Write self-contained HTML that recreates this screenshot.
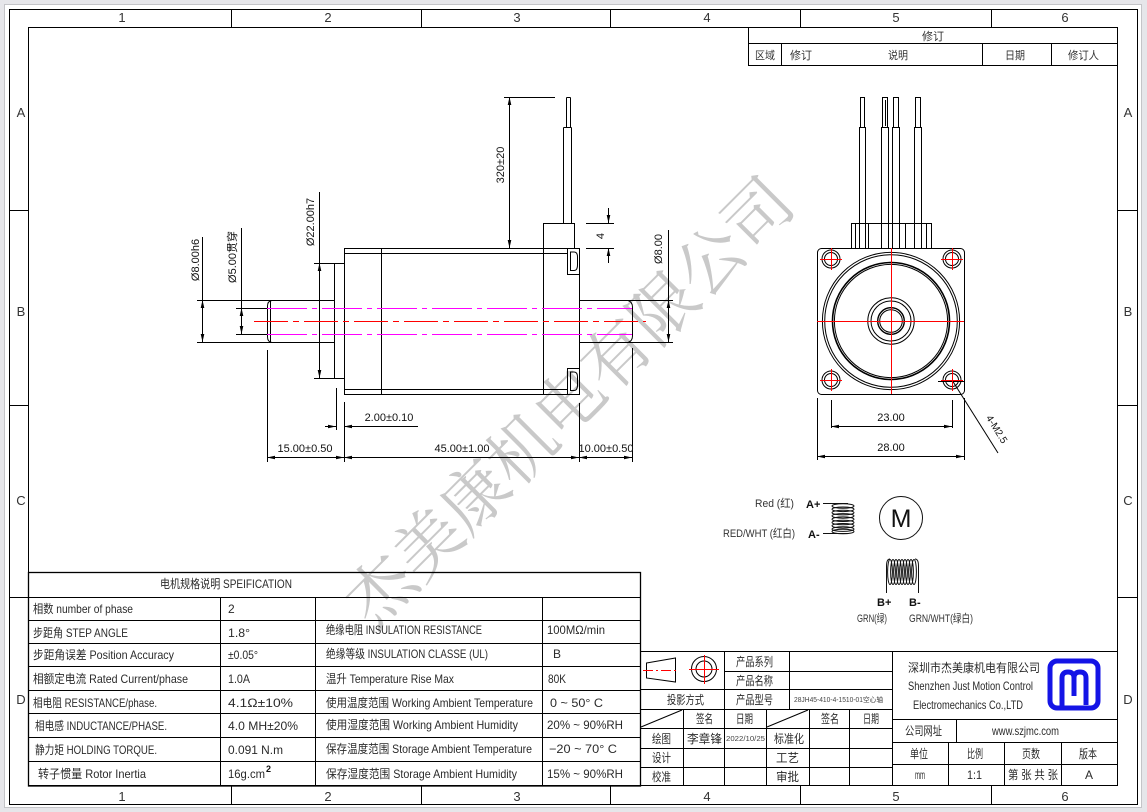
<!DOCTYPE html>
<html><head><meta charset="utf-8">
<style>
html,body{margin:0;padding:0;background:#e6e6ea;}
svg{display:block}
text{font-family:"Liberation Sans","Noto Sans CJK SC",sans-serif;fill:#222}
.d{font-size:11px;fill:#111}
.c{font-size:12px;fill:#2a2a2a}
.z{font-size:13px;fill:#333}
.s{font-size:11px;fill:#333}
</style></head><body>
<svg width="1147" height="812" viewBox="0 0 1147 812" xmlns="http://www.w3.org/2000/svg">
<rect x="4.5" y="4.5" width="1137" height="803" fill="#fff" stroke="#c4c4c8"/>

<!-- watermark -->
<text transform="translate(374,631) rotate(-45)" font-size="67" style="fill:#c9c9c9;font-family:'Noto Serif CJK SC','Noto Sans CJK SC',serif" textLength="600">杰美康机电有限公司</text>

<g fill="none" stroke="#000" stroke-width="1">
<!-- frames -->
<rect x="9.5" y="9.5" width="1128" height="795"/>
<rect x="28.5" y="27.5" width="1089" height="758"/>
<path d="M231.5,9V27M421.5,9V27M610.5,9V27M800.5,9V27M991.5,9V27"/>
<path d="M231.5,786V805M421.5,786V805M610.5,786V805M800.5,786V805M991.5,786V805"/>
<path d="M9,210.5H28M9,405.5H28M9,597.5H28M1118,210.5H1137M1118,405.5H1137M1118,597.5H1137"/>

<!-- revision table -->
<path d="M748.5,27V65M748,43.5H1118M748,65.5H1118M781.5,43V65M982.5,43V65M1051.5,43V65"/>

<!-- LEFT VIEW -->
<path d="M197,300.5H334M197,342.5H334"/>
<path d="M272,300.5Q267.5,301 267.5,306V337Q267.5,342 272,342.5"/>
<path d="M270.5,301V342"/>
<path d="M334.5,263V378M334,263.5H344M334,378.5H344"/>
<path d="M314,263.5H334M314,378.5H334"/>
<path d="M344.5,248.5H579.5V394.5H344.5Z"/>
<path d="M344,253.5H567M344,389.5H567"/>
<path d="M381.5,248V394M543.5,223V394M543.5,223.5H574.5V248"/>
<path d="M567.5,248V274.5H579M567.5,368.5V394M567,368.5H579"/>
<path d="M570.5,252H574Q577.5,252 577.5,257V265Q577.5,270.5 574,270.5H570.5Z"/>
<path d="M570.5,372H574Q577.5,372 577.5,377V385Q577.5,390.5 574,390.5H570.5Z"/>
<path d="M579,300.5H673M579,342.5H673"/>
<path d="M628,300.5Q632.5,302 632.5,307V336Q632.5,341 628,342.5"/>
<path d="M563.5,127.5V223M571.5,127.5V223M563.5,127.5H571.5"/>
<path d="M566.5,97.5V127M570.5,97.5V127M566.5,97.5H570.5"/>

<!-- left view dims -->
<path d="M202.5,237V342M241.5,228V334M236,308.5H267M236,334.5H267M319.5,192V378"/>
<path d="M509.5,97V248M504,97.5H555"/>
<path d="M608.5,208V223M608.5,248V263M586,223.5H614M586,248.5H614"/>
<path d="M668.5,230V342"/>
<path d="M267.5,350V462M344.5,402V462M336.5,388V430M579.5,403V462M632.5,348V462"/>
<path d="M325,426.5H336M344,426.5H418"/>
<path d="M267,457.5H632"/>
</g>

<!-- centerlines -->
<g fill="none" stroke-width="1">
<path d="M267,308.5H632M267,334.5H632" stroke="#ff00ff" stroke-dasharray="40 5 5 5"/>
<path d="M254,321.5H646" stroke="#ff0000" stroke-dasharray="34 5 6 5"/>
</g>

<!-- arrows -->
<g fill="#000">
<polygon points="202.5,300 200.7,308 204.3,308"/><polygon points="202.5,342 200.7,334 204.3,334"/>
<polygon points="241.5,308 239.7,316 243.3,316"/><polygon points="241.5,334 239.7,326 243.3,326"/>
<polygon points="319.5,263 317.7,271 321.3,271"/><polygon points="319.5,378 317.7,370 321.3,370"/>
<polygon points="509.5,97 507.7,105 511.3,105"/><polygon points="509.5,248 507.7,240 511.3,240"/>
<polygon points="608.5,223 606.7,215 610.3,215"/><polygon points="608.5,248 606.7,256 610.3,256"/>
<polygon points="668.5,300 666.7,308 670.3,308"/><polygon points="668.5,342 666.7,334 670.3,334"/>
<polygon points="336,426.5 328,424.7 328,428.3"/><polygon points="344,426.5 352,424.7 352,428.3"/>
<polygon points="267,457.5 275,455.7 275,459.3"/><polygon points="344,457.5 336,455.7 336,459.3"/>
<polygon points="344,457.5 352,455.7 352,459.3"/><polygon points="579,457.5 571,455.7 571,459.3"/>
<polygon points="579,457.5 587,455.7 587,459.3"/><polygon points="632,457.5 624,455.7 624,459.3"/>
<polygon points="831,426.5 839,424.7 839,428.3"/><polygon points="952,426.5 944,424.7 944,428.3"/>
<polygon points="817,456.5 825,454.7 825,458.3"/><polygon points="964,456.5 956,454.7 956,458.3"/>
</g>

<!-- dim text -->
<text class="d" transform="translate(199,260) rotate(-90)" text-anchor="middle">Ø8.00h6</text>
<text class="d" transform="translate(236,257) rotate(-90)" text-anchor="middle">Ø5.00贯穿</text>
<text class="d" transform="translate(314,222) rotate(-90)" text-anchor="middle">Ø22.00h7</text>
<text class="d" transform="translate(504,165) rotate(-90)" text-anchor="middle">320±20</text>
<text class="d" transform="translate(604,236) rotate(-90)" text-anchor="middle">4</text>
<text class="d" transform="translate(662,249) rotate(-90)" text-anchor="middle">Ø8.00</text>
<text class="d" x="389" y="421" text-anchor="middle">2.00±0.10</text>
<text class="d" x="305" y="452" text-anchor="middle">15.00±0.50</text>
<text class="d" x="462" y="452" text-anchor="middle">45.00±1.00</text>
<text class="d" x="606" y="452" text-anchor="middle">10.00±0.50</text>
<text class="d" x="891" y="421" text-anchor="middle">23.00</text>
<text class="d" x="891" y="451" text-anchor="middle">28.00</text>
<text class="d" transform="translate(994,431) rotate(58)" text-anchor="middle" style="font-size:10px">4-M2.5</text>

<!-- RIGHT VIEW -->
<g fill="none" stroke="#000" stroke-width="1">
<rect x="817.5" y="248.5" width="147" height="146" rx="4"/>
<rect x="851.5" y="223.5" width="80" height="25"/>
<path d="M855.5,224V248M926.5,224V248M868.5,224V248M905.5,224V248"/>
<path d="M859.5,127V248M865.5,127V248M859.5,127.5H865.5M860.5,97V127M864.5,97V127M860.5,97.5H864.5"/>
<path d="M881.5,127V248M888.5,127V248M881.5,127.5H888.5M882.5,97V127M887.5,97V127M882.5,97.5H887.5M885.5,100V126"/>
<path d="M892.5,127V248M899.5,127V248M892.5,127.5H899.5M893.5,97V127M898.5,97V127M893.5,97.5H898.5"/>
<path d="M914.5,127V248M921.5,127V248M914.5,127.5H921.5M915.5,97V127M920.5,97V127M915.5,97.5H920.5"/>
<circle cx="891" cy="321" r="68.6"/>
<circle cx="891" cy="321" r="66.3"/>
<circle cx="891" cy="321" r="58.5" stroke-width="1.6"/>
<circle cx="891" cy="321" r="56.6"/>
<circle cx="891" cy="321" r="23.2"/>
<circle cx="891" cy="321" r="20"/>
<circle cx="891" cy="321" r="13.3" stroke-width="1.4"/>
<circle cx="891" cy="321" r="11.3"/>
<circle cx="831" cy="259" r="9"/><circle cx="831" cy="259" r="6.5"/>
<circle cx="952" cy="259" r="9"/><circle cx="952" cy="259" r="6.5"/>
<circle cx="831" cy="380" r="9"/><circle cx="831" cy="380" r="6.5"/>
<circle cx="952" cy="380" r="9"/><circle cx="952" cy="380" r="6.5"/>
<path d="M938,381.5H964"/>
<path d="M952,380L998,453"/>
<path d="M831.5,400V428M952.5,400V428M831,426.5H952"/>
<path d="M817.5,398V460M964.5,398V460M817,456.5H964"/>
</g>
<g fill="none" stroke="#ff0000" stroke-width="1">
<path d="M891.5,248V394M817,321.5H964"/>
<path d="M820,259.5H842M831.5,248V270M941,259.5H963M952.5,248V270M820,380.5H842M831.5,369V391M941,380.5H963M952.5,369V391"/>
</g>

<!-- wiring -->
<g fill="none" stroke="#111" stroke-width="1">
<path d="M823,503.5H848M823,533.5H848"/>
<ellipse cx="843" cy="506" rx="11" ry="2.3"/>
<ellipse cx="843" cy="509.3" rx="11" ry="2.3"/>
<ellipse cx="843" cy="512.6" rx="11" ry="2.3"/>
<ellipse cx="843" cy="515.9" rx="11" ry="2.3"/>
<ellipse cx="843" cy="519.2" rx="11" ry="2.3"/>
<ellipse cx="843" cy="522.5" rx="11" ry="2.3"/>
<ellipse cx="843" cy="525.8" rx="11" ry="2.3"/>
<ellipse cx="843" cy="529.1" rx="11" ry="2.3"/>
<ellipse cx="843" cy="531.5" rx="11" ry="2.3"/>
<circle cx="901" cy="518" r="21.5"/>
<path d="M886.5,593V566Q886.5,559 890,559M918.5,593V566Q918.5,559 915,559"/>
<ellipse cx="890" cy="572" rx="2.4" ry="12.5"/>
<ellipse cx="893" cy="572" rx="2.4" ry="12.5"/>
<ellipse cx="896" cy="572" rx="2.4" ry="12.5"/>
<ellipse cx="899" cy="572" rx="2.4" ry="12.5"/>
<ellipse cx="902" cy="572" rx="2.4" ry="12.5"/>
<ellipse cx="905" cy="572" rx="2.4" ry="12.5"/>
<ellipse cx="908" cy="572" rx="2.4" ry="12.5"/>
<ellipse cx="911" cy="572" rx="2.4" ry="12.5"/>
<ellipse cx="914" cy="572" rx="2.4" ry="12.5"/>
</g>
<text x="901" y="527" text-anchor="middle" style="font-size:25px;fill:#111">M</text>
<text class="s" x="755" y="507" textLength="39" lengthAdjust="spacingAndGlyphs">Red (红)</text>
<text class="s" x="723" y="537" textLength="72" lengthAdjust="spacingAndGlyphs">RED/WHT (红白)</text>
<text x="806" y="508" style="font-size:11px;font-weight:bold;fill:#111">A+</text>
<text x="808" y="538" style="font-size:11px;font-weight:bold;fill:#111">A-</text>
<text x="877" y="606" style="font-size:11px;font-weight:bold;fill:#111">B+</text>
<text x="909" y="606" style="font-size:11px;font-weight:bold;fill:#111">B-</text>
<text class="s" x="857" y="622" textLength="30" lengthAdjust="spacingAndGlyphs">GRN(绿)</text>
<text class="s" x="909" y="622" textLength="64" lengthAdjust="spacingAndGlyphs">GRN/WHT(绿白)</text>

<!-- zone labels -->
<g class="z" text-anchor="middle">
<text class="z" x="122" y="22">1</text><text class="z" x="328" y="22">2</text><text class="z" x="517" y="22">3</text><text class="z" x="707" y="22">4</text><text class="z" x="896" y="22">5</text><text class="z" x="1065" y="22">6</text>
<text class="z" x="122" y="801">1</text><text class="z" x="328" y="801">2</text><text class="z" x="517" y="801">3</text><text class="z" x="707" y="801">4</text><text class="z" x="896" y="801">5</text><text class="z" x="1065" y="801">6</text>
<text class="z" x="21" y="117">A</text><text class="z" x="21" y="316">B</text><text class="z" x="21" y="505">C</text><text class="z" x="21" y="704">D</text>
<text class="z" x="1128" y="117">A</text><text class="z" x="1128" y="316">B</text><text class="z" x="1128" y="505">C</text><text class="z" x="1128" y="704">D</text>
</g>

<!-- revision text -->
<text class="s" x="933" y="40" text-anchor="middle">修订</text>
<text class="s" x="755" y="59" textLength="20" lengthAdjust="spacingAndGlyphs">区域</text>
<text class="s" x="790" y="59" textLength="22" lengthAdjust="spacingAndGlyphs">修订</text>
<text class="s" x="888" y="59" textLength="20" lengthAdjust="spacingAndGlyphs">说明</text>
<text class="s" x="1005" y="59" textLength="20" lengthAdjust="spacingAndGlyphs">日期</text>
<text class="s" x="1068" y="59" textLength="31" lengthAdjust="spacingAndGlyphs">修订人</text>

<!-- SPEC TABLE -->
<g fill="none" stroke="#000" stroke-width="1">
<rect x="28.5" y="572.5" width="612" height="213.5" stroke-width="1.3"/>
<path d="M28,597.5H640M28,620.5H640M28,643.5H640M28,666.5H640M28,690.5H640M28,713.5H640M28,737.5H640M28,761.5H640"/>
<path d="M220.5,597V786M315.5,597V786M542.5,597V786"/>
</g>
<text class="c" x="160" y="588" textLength="132" lengthAdjust="spacingAndGlyphs">电机规格说明 SPEIFICATION</text>
<g class="c">
<text class="c" x="33" y="613" textLength="100" lengthAdjust="spacingAndGlyphs">相数 number of phase</text>
<text class="c" x="33" y="637" textLength="95" lengthAdjust="spacingAndGlyphs">步距角 STEP ANGLE</text>
<text class="c" x="33" y="659" textLength="141" lengthAdjust="spacingAndGlyphs">步距角误差 Position Accuracy</text>
<text class="c" x="33" y="683" textLength="155" lengthAdjust="spacingAndGlyphs">相额定电流 Rated Current/phase</text>
<text class="c" x="33" y="707" textLength="124" lengthAdjust="spacingAndGlyphs">相电阻 RESISTANCE/phase.</text>
<text class="c" x="35" y="730" textLength="132" lengthAdjust="spacingAndGlyphs">相电感 INDUCTANCE/PHASE.</text>
<text class="c" x="35" y="754" textLength="122" lengthAdjust="spacingAndGlyphs">静力矩 HOLDING TORQUE.</text>
<text class="c" x="38" y="778" textLength="108" lengthAdjust="spacingAndGlyphs">转子惯量 Rotor Inertia</text>
<text class="c" x="228" y="613">2</text>
<text class="c" x="228" y="637" textLength="22" lengthAdjust="spacingAndGlyphs">1.8°</text>
<text class="c" x="228" y="659" textLength="30" lengthAdjust="spacingAndGlyphs">±0.05°</text>
<text class="c" x="228" y="683" textLength="22" lengthAdjust="spacingAndGlyphs">1.0A</text>
<text class="c" x="228" y="707" textLength="65" lengthAdjust="spacingAndGlyphs">4.1Ω±10%</text>
<text class="c" x="228" y="730" textLength="70" lengthAdjust="spacingAndGlyphs">4.0 MH±20%</text>
<text class="c" x="228" y="754" textLength="55" lengthAdjust="spacingAndGlyphs">0.091 N.m</text>
<text class="c" x="228" y="778" textLength="37" lengthAdjust="spacingAndGlyphs">16g.cm</text>
<text x="266" y="772" style="font-size:9px;font-weight:bold;fill:#111">2</text>
<text class="c" x="326" y="634" textLength="156" lengthAdjust="spacingAndGlyphs">绝缘电阻 INSULATION RESISTANCE</text>
<text class="c" x="326" y="658" textLength="162" lengthAdjust="spacingAndGlyphs">绝缘等级 INSULATION CLASSE (UL)</text>
<text class="c" x="326" y="683" textLength="128" lengthAdjust="spacingAndGlyphs">温升 Temperature Rise Max</text>
<text class="c" x="326" y="707" textLength="207" lengthAdjust="spacingAndGlyphs">使用温度范围 Working Ambient Temperature</text>
<text class="c" x="326" y="729" textLength="192" lengthAdjust="spacingAndGlyphs">使用湿度范围 Working Ambient Humidity</text>
<text class="c" x="326" y="753" textLength="206" lengthAdjust="spacingAndGlyphs">保存温度范围 Storage Ambient Temperature</text>
<text class="c" x="326" y="778" textLength="191" lengthAdjust="spacingAndGlyphs">保存湿度范围 Storage Ambient Humidity</text>
<text class="c" x="547" y="634" textLength="58" lengthAdjust="spacingAndGlyphs">100MΩ/min</text>
<text class="c" x="553" y="658">B</text>
<text class="c" x="548" y="683" textLength="18" lengthAdjust="spacingAndGlyphs">80K</text>
<text class="c" x="550" y="707" textLength="53" lengthAdjust="spacingAndGlyphs">0 ~ 50° C</text>
<text class="c" x="547" y="729" textLength="76" lengthAdjust="spacingAndGlyphs">20% ~ 90%RH</text>
<text class="c" x="549" y="753" textLength="68" lengthAdjust="spacingAndGlyphs">−20 ~ 70° C</text>
<text class="c" x="547" y="778" textLength="76" lengthAdjust="spacingAndGlyphs">15% ~ 90%RH</text>
</g>

<!-- TITLE BLOCK -->
<g fill="none" stroke="#000" stroke-width="1">
<path d="M640,651.5H1118"/>
<path d="M724,671.5H893M640,689.5H893M640,709.5H893M640,728.5H893M640,748.5H893M640,767.5H893"/>
<path d="M724.5,651V786M789.5,651V709M683.5,709V786M766.5,709V786M809.5,709V786M849.5,709V786M892.5,651V786"/>
<path d="M641,727L682,710M767,727L808,710"/>
<path d="M646.5,663L675.5,658V682L646.5,678Z"/>
<circle cx="704" cy="669" r="12.5"/>
<circle cx="704" cy="669" r="8"/>
<path d="M892,719.5H1118M892,742.5H1118M892,764.5H1118M956.5,719V742M948.5,742V786M1004.5,742V786M1061.5,742V786"/>
</g>
<g fill="none" stroke="#ff0000" stroke-width="1">
<path d="M643,670.5H679" stroke-dasharray="10 3 2 3"/>
<path d="M704.5,655V684M689,669.5H719"/>
</g>
<g class="c">
<text class="c" x="667" y="704" textLength="37" lengthAdjust="spacingAndGlyphs">投影方式</text>
<text class="c" x="736" y="666" textLength="37" lengthAdjust="spacingAndGlyphs">产品系列</text>
<text class="c" x="736" y="685" textLength="37" lengthAdjust="spacingAndGlyphs">产品名称</text>
<text class="c" x="736" y="704" textLength="37" lengthAdjust="spacingAndGlyphs">产品型号</text>
<text x="794" y="702" textLength="89" lengthAdjust="spacingAndGlyphs" style="font-size:7px;fill:#444">28JH45-410-4-1510-01空心轴</text>
<text class="c" x="696" y="723" textLength="17" lengthAdjust="spacingAndGlyphs">签名</text>
<text class="c" x="736" y="723" textLength="17" lengthAdjust="spacingAndGlyphs">日期</text>
<text class="c" x="821" y="723" textLength="18" lengthAdjust="spacingAndGlyphs">签名</text>
<text class="c" x="863" y="723" textLength="16" lengthAdjust="spacingAndGlyphs">日期</text>
<text class="c" x="652" y="743" textLength="19" lengthAdjust="spacingAndGlyphs">绘图</text>
<text class="c" x="687" y="743" textLength="35" lengthAdjust="spacingAndGlyphs">李章锋</text>
<text x="726" y="741" textLength="39" lengthAdjust="spacingAndGlyphs" style="font-size:7px;fill:#444">2022/10/25</text>
<text class="c" x="774" y="743" textLength="30" lengthAdjust="spacingAndGlyphs">标准化</text>
<text class="c" x="652" y="762" textLength="19" lengthAdjust="spacingAndGlyphs">设计</text>
<text class="c" x="776" y="762" textLength="23" lengthAdjust="spacingAndGlyphs">工艺</text>
<text class="c" x="652" y="781" textLength="19" lengthAdjust="spacingAndGlyphs">校准</text>
<text class="c" x="776" y="781" textLength="23" lengthAdjust="spacingAndGlyphs">审批</text>

<text class="c" x="908" y="672" textLength="132" lengthAdjust="spacingAndGlyphs">深圳市杰美康机电有限公司</text>
<text class="c" x="908" y="690" textLength="125" lengthAdjust="spacingAndGlyphs">Shenzhen Just Motion Control</text>
<text class="c" x="913" y="709" textLength="110" lengthAdjust="spacingAndGlyphs">Electromechanics Co.,LTD</text>
<text class="c" x="905" y="735" textLength="37" lengthAdjust="spacingAndGlyphs">公司网址</text>
<text class="c" x="992" y="735" textLength="67" lengthAdjust="spacingAndGlyphs">www.szjmc.com</text>
<text class="c" x="910" y="758" textLength="18" lengthAdjust="spacingAndGlyphs">单位</text>
<text class="c" x="967" y="758" textLength="16" lengthAdjust="spacingAndGlyphs">比例</text>
<text class="c" x="1022" y="758" textLength="18" lengthAdjust="spacingAndGlyphs">页数</text>
<text class="c" x="1079" y="758" textLength="18" lengthAdjust="spacingAndGlyphs">版本</text>
<text class="c" x="915" y="779" textLength="10" lengthAdjust="spacingAndGlyphs">mm</text>
<text class="c" x="967" y="779" textLength="15" lengthAdjust="spacingAndGlyphs">1:1</text>
<text class="c" x="1008" y="779" textLength="50" lengthAdjust="spacingAndGlyphs">第 张 共 张</text>
<text class="c" x="1085" y="779">A</text>
</g>

<!-- logo -->
<g fill="none" stroke="#1414e6" stroke-width="5" stroke-linejoin="round">
<rect x="1050" y="661" width="48" height="47" rx="7"/>
<path d="M1062,708V678Q1062,672 1068,672Q1074,672 1074,678V696M1074,678Q1074,672 1080,672Q1086,672 1086,678V705"/>
</g>
</svg>
</body></html>
